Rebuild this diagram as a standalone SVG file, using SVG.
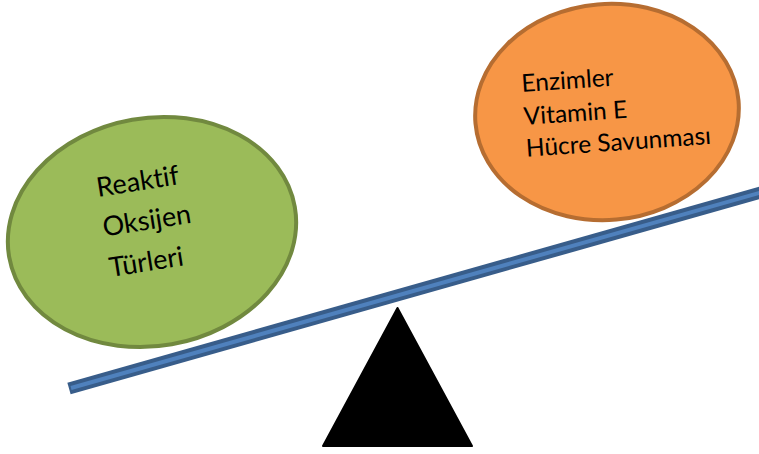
<svg xmlns="http://www.w3.org/2000/svg" width="759" height="454" viewBox="0 0 759 454">
<style>
.lbl{font-family:Lato,"Open Sans","Liberation Sans",sans-serif;fill:#000;font-variant-ligatures:none}
</style>
<rect width="759" height="454" fill="#fff"/>
<g id="green-node" transform="rotate(-10 152 232)">
<ellipse cx="152" cy="232" rx="145" ry="114" fill="#9BBB59" stroke="#71893F" stroke-width="4"/>
</g>
<g id="green-text" transform="rotate(-9 98 197)">
<text class="lbl" font-size="27" x="98" y="197">Reaktif</text>
<text class="lbl" font-size="27" x="98" y="237">Oksijen</text>
<text class="lbl" font-size="27" x="98" y="278">Türleri</text>
</g>
<g id="orange-node">
<ellipse cx="607" cy="112" rx="132" ry="108" transform="rotate(-5 607 112)" fill="#F79646" stroke="#B66D31" stroke-width="4"/>
<g transform="rotate(-4 522 92)">
<text class="lbl" font-size="24.5" x="522" y="92">Enzimler</text>
<text class="lbl" font-size="24.5" x="522" y="125">Vitamin E</text>
<text class="lbl" font-size="24.5" x="522" y="157">Hücre Savunması</text>
</g>
</g>
<g id="connectors">
<line x1="69" y1="388.5" x2="775" y2="188.5" stroke="#385D8A" stroke-width="12"/>
<line x1="71" y1="388" x2="775" y2="188.5" stroke="#4F81BD" stroke-width="4"/>
</g>
<g id="fulcrum">
<polygon points="397.5,308 472,446 323,446" fill="#000" stroke="#000" stroke-width="2" stroke-linejoin="round"/>
</g>
</svg>
